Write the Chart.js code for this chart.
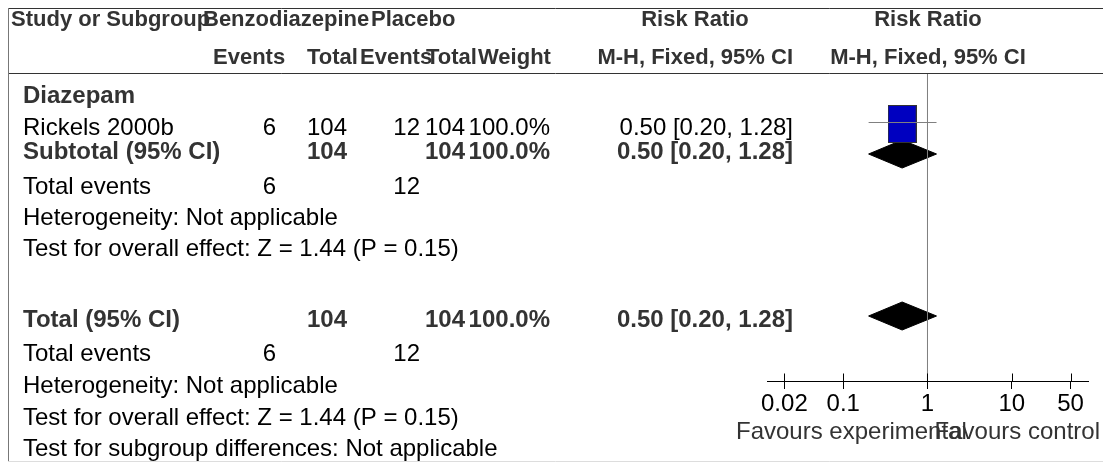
<!DOCTYPE html>
<html lang="en">
<head>
    <meta charset="UTF-8">
    <title>Forest plot - Benzodiazepine vs Placebo</title>
    <style>
        html, body {
            margin: 0;
            padding: 0;
            background: #fff;
        }
        canvas {
            display: block;
        }
    </style>
</head>
<body>
    <canvas id="forest" width="1103" height="462"></canvas>

    <script src="https://cdn.jsdelivr.net/npm/chart.js"></script>
    <script>
        // ---- data ----
        var subgroupName = 'Diazepam';
        var studies = ['Rickels 2000b'];
        var expEvents = [6];
        var expTotal = [104];
        var ctrlEvents = [12];
        var ctrlTotal = [104];
        var weights = ['100.0%'];
        var rr = [0.50];
        var ciLow = [0.20];
        var ciHigh = [1.28];

        var subtotal = { expTotal: 104, ctrlTotal: 104, weight: '100.0%', rr: 0.50, low: 0.20, high: 1.28, expEvents: 6, ctrlEvents: 12 };
        var overall = { expTotal: 104, ctrlTotal: 104, weight: '100.0%', rr: 0.50, low: 0.20, high: 1.28, expEvents: 6, ctrlEvents: 12 };

        var subgroupNotes = ['Heterogeneity: Not applicable', 'Test for overall effect: Z = 1.44 (P = 0.15)'];
        var overallNotes = ['Heterogeneity: Not applicable', 'Test for overall effect: Z = 1.44 (P = 0.15)', 'Test for subgroup differences: Not applicable'];

        var axisTicks = [0.02, 0.1, 1, 10, 50];
        var favourLeft = 'Favours experimental';
        var favourRight = 'Favours control';

        // ---- layout (pixels / plot rows) ----
        var FONT = 'Arial, "Liberation Sans", sans-serif';
        var SIZE = 24;        // body text
        var HEAD = 22;        // header text
        var studyRow = 49.5;  // y units inside plot area (0 = header line)
        var subtotalRow = 81;
        var totalRow = 243;
        var diamondHalf = 14;

        function fmt(v) { return v.toFixed(2); }
        function ciText(v, lo, hi) { return fmt(v) + ' [' + fmt(lo) + ', ' + fmt(hi) + ']'; }

        // study square drawn as a point image
        var box = document.createElement('canvas');
        box.width = 29; box.height = 38;
        var bctx = box.getContext('2d');
        bctx.fillStyle = '#0000c0';
        bctx.fillRect(0, 0, 29, 38);
        bctx.strokeStyle = '#333';
        bctx.lineWidth = 1;
        bctx.strokeRect(0.5, 0.5, 28, 37);

        function diamond(lo, est, hi, row, up) {
            var d = up ? -diamondHalf : diamondHalf;
            return [{ x: lo, y: row }, { x: est, y: row + d }, { x: hi, y: row }];
        }

        var datasets = [
            {   // line of no effect
                data: [{ x: 1, y: 0 }, { x: 1, y: 308 }],
                borderColor: '#808080', borderWidth: 1, pointRadius: 0, showLine: true
            },
            {   // study CI
                data: [{ x: ciLow[0], y: studyRow }, { x: ciHigh[0], y: studyRow }],
                borderColor: '#808080', borderWidth: 1, pointRadius: 0, showLine: true
            },
            {   // study estimate
                data: studies.map(function (s, i) { return { x: rr[i], y: studyRow + 1.5 }; }),
                pointStyle: box, pointRadius: 14, showLine: false
            },
            {
                data: diamond(subtotal.low, subtotal.rr, subtotal.high, subtotalRow, true),
                borderColor: '#000', backgroundColor: '#000', borderWidth: 1, pointRadius: 0, showLine: true, fill: false
            },
            {
                data: diamond(subtotal.low, subtotal.rr, subtotal.high, subtotalRow, false),
                borderColor: '#000', backgroundColor: '#000', borderWidth: 1, pointRadius: 0, showLine: true, fill: '-1'
            },
            {
                data: diamond(overall.low, overall.rr, overall.high, totalRow, true),
                borderColor: '#000', backgroundColor: '#000', borderWidth: 1, pointRadius: 0, showLine: true, fill: false
            },
            {
                data: diamond(overall.low, overall.rr, overall.high, totalRow, false),
                borderColor: '#000', backgroundColor: '#000', borderWidth: 1, pointRadius: 0, showLine: true, fill: '-1'
            }
        ];

        function text(ctx, s, x, y, bold, align, size) {
            ctx.font = (bold ? 'bold ' : '') + (size || SIZE) + 'px ' + FONT;
            ctx.fillStyle = bold ? '#333' : '#000';
            ctx.textAlign = align || 'left';
            ctx.textBaseline = 'middle';
            ctx.fillText(s, x, y);
        }

        function head(ctx, s, x, y, align) {
            text(ctx, s, x, y, true, align, HEAD);
        }

        var tablePlugin = {
            id: 'table',
            beforeDraw: function (chart) {
                var ctx = chart.ctx;
                ctx.save();
                ctx.fillStyle = '#fff';
                ctx.fillRect(0, 0, chart.width, chart.height);
                ctx.restore();
            },
            afterDraw: function (chart) {
                var ctx = chart.ctx;
                var xs = chart.scales.x;
                ctx.save();

                // frame lines
                ctx.lineWidth = 1;
                ctx.strokeStyle = '#333';
                ctx.beginPath();
                ctx.moveTo(8, 8.5); ctx.lineTo(1103, 8.5);
                ctx.moveTo(8, 73.5); ctx.lineTo(1103, 73.5);
                ctx.stroke();
                ctx.strokeStyle = '#777';
                ctx.beginPath();
                ctx.moveTo(8.5, 8); ctx.lineTo(8.5, 462);
                ctx.stroke();
                ctx.strokeStyle = '#ddd';
                ctx.beginPath();
                ctx.moveTo(8, 461.5); ctx.lineTo(1103, 461.5);
                ctx.stroke();

                // header
                head(ctx, 'Study or Subgroup', 11, 20);
                head(ctx, 'Benzodiazepine', 203, 20);
                head(ctx, 'Placebo', 371, 20);
                head(ctx, 'Risk Ratio', 695, 20, 'center');
                head(ctx, 'Risk Ratio', 928, 20, 'center');
                head(ctx, 'Events', 213, 58);
                head(ctx, 'Total', 307, 58);
                head(ctx, 'Events', 360, 58);
                head(ctx, 'Total', 426, 58);
                head(ctx, 'Weight', 478, 58);
                head(ctx, 'M-H, Fixed, 95% CI', 793, 58, 'right');
                head(ctx, 'M-H, Fixed, 95% CI', 928, 58, 'center');

                // subgroup
                text(ctx, subgroupName, 23, 96, true);
                var y = 128;
                studies.forEach(function (s, i) {
                    text(ctx, s, 23, y, false);
                    text(ctx, String(expEvents[i]), 276, y, false, 'right');
                    text(ctx, String(expTotal[i]), 347, y, false, 'right');
                    text(ctx, String(ctrlEvents[i]), 420, y, false, 'right');
                    text(ctx, String(ctrlTotal[i]), 465, y, false, 'right');
                    text(ctx, weights[i], 550, y, false, 'right');
                    text(ctx, ciText(rr[i], ciLow[i], ciHigh[i]), 793, y, false, 'right');
                    y += 24;
                });
                text(ctx, 'Subtotal (95% CI)', 23, 152, true);
                text(ctx, String(subtotal.expTotal), 347, 152, true, 'right');
                text(ctx, String(subtotal.ctrlTotal), 465, 152, true, 'right');
                text(ctx, subtotal.weight, 550, 152, true, 'right');
                text(ctx, ciText(subtotal.rr, subtotal.low, subtotal.high), 793, 152, true, 'right');
                text(ctx, 'Total events', 23, 187, false);
                text(ctx, String(subtotal.expEvents), 276, 187, false, 'right');
                text(ctx, String(subtotal.ctrlEvents), 420, 187, false, 'right');
                subgroupNotes.forEach(function (n, i) { text(ctx, n, 23, 218 + i * 31, false); });

                // overall
                text(ctx, 'Total (95% CI)', 23, 320, true);
                text(ctx, String(overall.expTotal), 347, 320, true, 'right');
                text(ctx, String(overall.ctrlTotal), 465, 320, true, 'right');
                text(ctx, overall.weight, 550, 320, true, 'right');
                text(ctx, ciText(overall.rr, overall.low, overall.high), 793, 320, true, 'right');
                text(ctx, 'Total events', 23, 354, false);
                text(ctx, String(overall.expEvents), 276, 354, false, 'right');
                text(ctx, String(overall.ctrlEvents), 420, 354, false, 'right');
                overallNotes.forEach(function (n, i) { text(ctx, n, 23, 386.5 + i * 31.5, false); });

                // tick marks above the axis line
                var ay = xs.top + 0.5;
                ctx.strokeStyle = '#000';
                ctx.lineWidth = 1;
                ctx.beginPath();
                xs.ticks.forEach(function (t) {
                    var px = Math.round(xs.getPixelForValue(t.value)) + 0.5;
                    ctx.moveTo(px, ay - 8); ctx.lineTo(px, ay);
                });
                ctx.stroke();

                // favours labels
                ctx.font = SIZE + 'px ' + FONT;
                ctx.fillStyle = '#333';
                ctx.textBaseline = 'middle';
                ctx.textAlign = 'left';
                ctx.fillText(favourLeft, 736, 432);
                ctx.textAlign = 'right';
                ctx.fillText(favourRight, 1100, 432);
                ctx.restore();
            }
        };

        var chart = new Chart(document.getElementById('forest').getContext('2d'), {
            type: 'scatter',
            data: { datasets: datasets },
            options: {
                responsive: false,
                animation: false,
                devicePixelRatio: 1,
                layout: { padding: { left: 767, right: 15, top: 73, bottom: 0 } },
                plugins: {
                    legend: { display: false },
                    tooltip: { enabled: false }
                },
                elements: { line: { tension: 0 } },
                scales: {
                    x: {
                        type: 'logarithmic',
                        min: 0.01244,
                        max: 80.4,
                        afterBuildTicks: function (s) {
                            s.ticks = axisTicks.map(function (v) { return { value: v }; });
                        },
                        afterFit: function (s) { s.height = 81; },
                        border: { display: true, color: '#000', width: 1 },
                        grid: { drawOnChartArea: false, drawTicks: true, tickLength: 8, color: '#000' },
                        ticks: {
                            autoSkip: false,
                            maxRotation: 0,
                            padding: 1,
                            color: '#000',
                            font: { family: FONT, size: SIZE, lineHeight: 1.2 },
                            callback: function (v) { return String(v); }
                        }
                    },
                    y: {
                        display: false,
                        reverse: true,
                        min: 0,
                        max: 308
                    }
                }
            },
            plugins: [tablePlugin]
        });
    </script>
</body>
</html>
